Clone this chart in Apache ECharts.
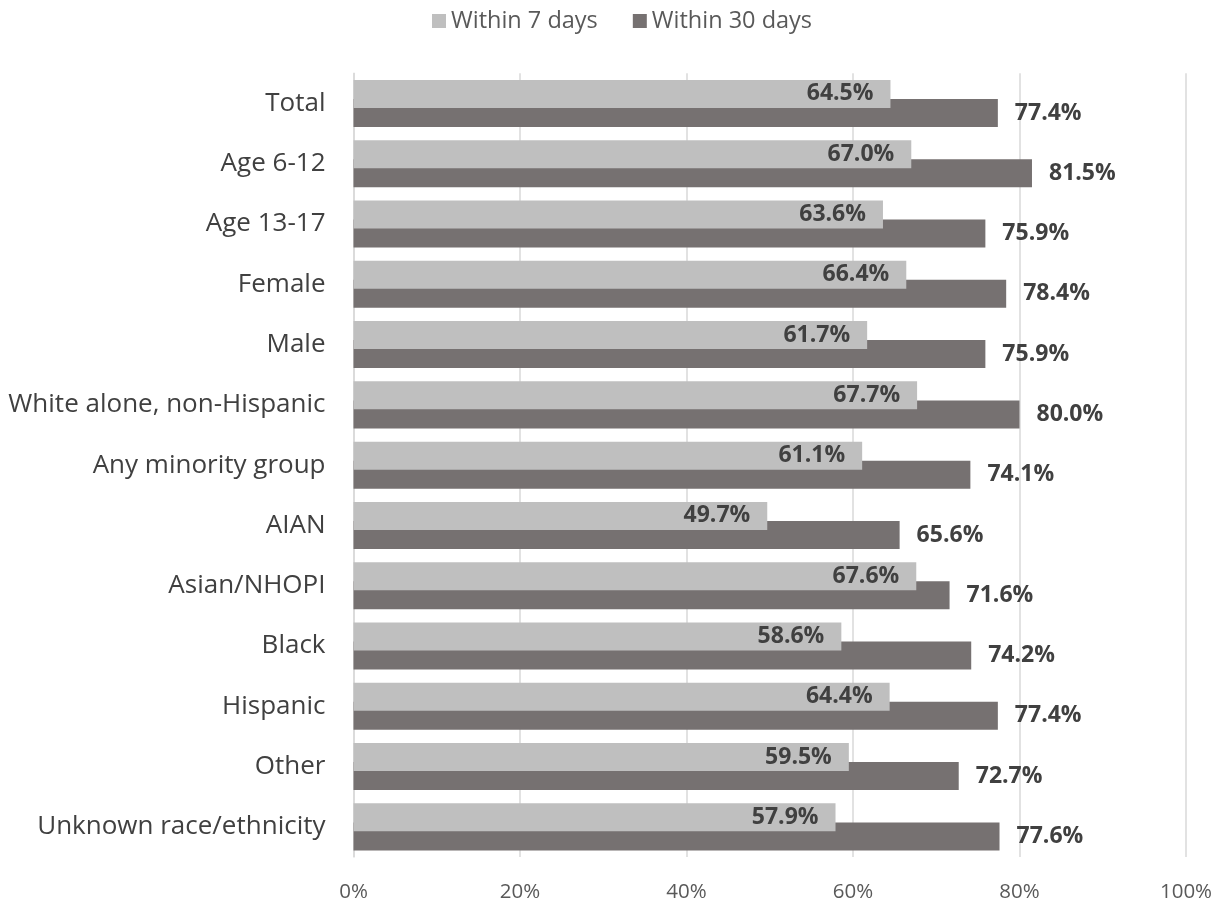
<!DOCTYPE html>
<html>
<head>
<meta charset="utf-8">
<script src="https://cdn.jsdelivr.net/npm/echarts@6/dist/echarts.min.js"></script>
<style>
html,body{margin:0;padding:0;background:#fff;}
#chart{width:1220px;height:903px;}
</style>
</head>
<body>
<div id="chart"></div>
<script>
const categories = ["Total","Age 6-12","Age 13-17","Female","Male","White alone, non-Hispanic","Any minority group","AIAN","Asian/NHOPI","Black","Hispanic","Other","Unknown race/ethnicity"];
const within7 = [64.5,67.0,63.6,66.4,61.7,67.7,61.1,49.7,67.6,58.6,64.4,59.5,57.9];
const within30 = [77.4,81.5,75.9,78.4,75.9,80.0,74.1,65.6,71.6,74.2,77.4,72.7,77.6];
const seriesNames = ["Within 7 days","Within 30 days"];
const xTicks = [0,20,40,60,80,100];

const FONT = "Open Sans";
const chart = echarts.init(document.getElementById('chart'));
chart.setOption({
  animation:false,
  backgroundColor:'#ffffff',
  textStyle:{fontFamily:FONT},
  legend:{
    top:4, left:427,
    icon:'rect', itemWidth:14, itemHeight:14, itemGap:35,
    textStyle:{fontFamily:FONT,fontSize:23.5,color:'#595959'},
    data:seriesNames
  },
  grid:{left:353.5,right:34,top:73.3,bottom:45,containLabel:false},
  xAxis:{
    type:'value', min:xTicks[0], max:xTicks[xTicks.length-1], interval:20,
    axisLine:{show:false}, axisTick:{show:false},
    splitLine:{show:true,lineStyle:{color:'#d9d9d9',width:1.5}},
    axisLabel:{fontFamily:FONT,fontSize:20.5,color:'#595959',margin:25,formatter:v=>v+'%'}
  },
  yAxis:{
    type:'category', data:categories, inverse:true,
    axisLine:{show:true,lineStyle:{color:'#d9d9d9',width:1.5}},
    axisTick:{show:false},
    axisLabel:{fontFamily:FONT,fontSize:26,color:'#404040',margin:28}
  },
  series:[
    {
      name:seriesNames[0], type:'bar', data:within7, z:3,
      barWidth:28, barGap:'-32%',
      itemStyle:{color:'#bfbfbf'},
      label:{show:true,position:'insideRight',distance:17,fontFamily:FONT,fontWeight:'bold',fontSize:23,color:'#404040',formatter:p=>p.value.toFixed(1)+'%'}
    },
    {
      name:seriesNames[1], type:'bar', data:within30, z:2,
      barWidth:28, barGap:'-32%',
      itemStyle:{color:'#767171'},
      label:{show:true,position:'right',distance:17,fontFamily:FONT,fontWeight:'bold',fontSize:23,color:'#404040',formatter:p=>p.value.toFixed(1)+'%'}
    }
  ]
});
</script>
</body>
</html>
